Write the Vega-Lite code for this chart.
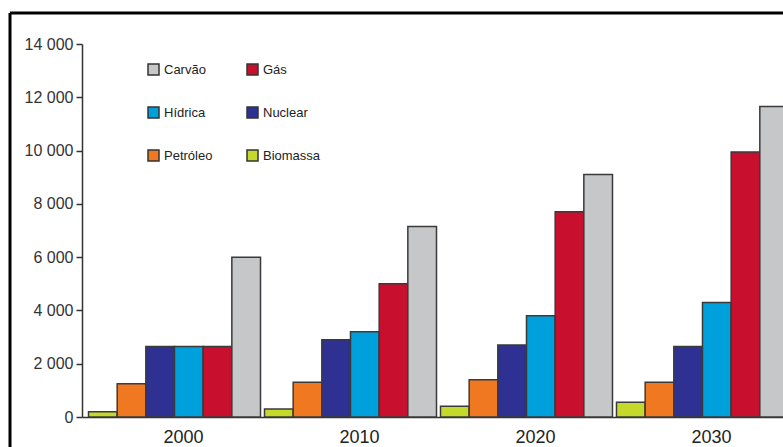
{
  "$schema": "https://vega.github.io/schema/vega-lite/v6.json",
  "width": 773,
  "height": 434,
  "autosize": {"type": "none"},
  "padding": {"left": 10, "top": 13, "right": 0, "bottom": 0},
  "background": "#ffffff",
  "config": {
    "font": "Liberation Sans",
    "view": {
      "stroke": "#000000",
      "strokeWidth": 3,
      "strokeDash": [773, 1207, 434, 0]
    }
  },
  "data": {
    "values": [
      {"ano": "2000", "fonte": "Biomassa", "valor": 200},
      {"ano": "2000", "fonte": "Petróleo", "valor": 1250},
      {"ano": "2000", "fonte": "Nuclear", "valor": 2650},
      {"ano": "2000", "fonte": "Hídrica", "valor": 2650},
      {"ano": "2000", "fonte": "Gás", "valor": 2650},
      {"ano": "2000", "fonte": "Carvão", "valor": 6000},
      {"ano": "2010", "fonte": "Biomassa", "valor": 300},
      {"ano": "2010", "fonte": "Petróleo", "valor": 1300},
      {"ano": "2010", "fonte": "Nuclear", "valor": 2900},
      {"ano": "2010", "fonte": "Hídrica", "valor": 3200},
      {"ano": "2010", "fonte": "Gás", "valor": 5000},
      {"ano": "2010", "fonte": "Carvão", "valor": 7150},
      {"ano": "2020", "fonte": "Biomassa", "valor": 400},
      {"ano": "2020", "fonte": "Petróleo", "valor": 1400},
      {"ano": "2020", "fonte": "Nuclear", "valor": 2700},
      {"ano": "2020", "fonte": "Hídrica", "valor": 3800},
      {"ano": "2020", "fonte": "Gás", "valor": 7700},
      {"ano": "2020", "fonte": "Carvão", "valor": 9100},
      {"ano": "2030", "fonte": "Biomassa", "valor": 550},
      {"ano": "2030", "fonte": "Petróleo", "valor": 1300},
      {"ano": "2030", "fonte": "Nuclear", "valor": 2650},
      {"ano": "2030", "fonte": "Hídrica", "valor": 4300},
      {"ano": "2030", "fonte": "Gás", "valor": 9950},
      {"ano": "2030", "fonte": "Carvão", "valor": 11650}
    ]
  },
  "mark": {"type": "bar", "clip": true, "stroke": "#3a3a3a", "strokeWidth": 1.5},
  "encoding": {
    "x": {
      "field": "ano",
      "type": "nominal",
      "scale": {"range": [72, 785], "paddingInner": 0.0227, "paddingOuter": 0.037},
      "axis": {
        "title": null,
        "orient": "bottom",
        "offset": -30,
        "labelAngle": 0,
        "ticks": false,
        "tickSize": 0,
        "domainColor": "#333333",
        "domainWidth": 1.5,
        "labelFontSize": 18,
        "labelColor": "#222222",
        "labelPadding": 11,
        "labelOffset": 9,
        "labelBaseline": "top"
      }
    },
    "xOffset": {
      "field": "fonte",
      "type": "nominal",
      "sort": ["Biomassa", "Petróleo", "Nuclear", "Hídrica", "Gás", "Carvão"],
      "scale": {"paddingInner": 0, "paddingOuter": 0}
    },
    "y": {
      "field": "valor",
      "type": "quantitative",
      "scale": {"domain": [0, 14000], "range": [404, 31], "nice": false},
      "axis": {
        "title": null,
        "orient": "left",
        "offset": -72,
        "grid": false,
        "values": [0, 2000, 4000, 6000, 8000, 10000, 12000, 14000],
        "labelExpr": "replace(format(datum.value, ','), ',', ' ')",
        "domainColor": "#333333",
        "domainWidth": 1.5,
        "tickColor": "#333333",
        "tickWidth": 1.5,
        "tickSize": 6,
        "labelPadding": 3,
        "labelFontSize": 16,
        "labelColor": "#333333",
        "labelDy": -2
      }
    },
    "color": {
      "field": "fonte",
      "type": "nominal",
      "scale": {
        "domain": ["Carvão", "Hídrica", "Petróleo", "Gás", "Nuclear", "Biomassa"],
        "range": ["#c6c7c9", "#00a0dc", "#f07820", "#c8102e", "#2e3192", "#c5d92d"]
      },
      "legend": {
        "title": null,
        "orient": "none",
        "legendX": 137,
        "legendY": 50,
        "columns": 2,
        "columnPadding": 31,
        "rowPadding": 26,
        "symbolType": "square",
        "symbolSize": 121,
        "symbolStrokeColor": "#333333",
        "symbolStrokeWidth": 1.5,
        "symbolOffset": 0,
        "labelOffset": 4,
        "labelFontSize": 13,
        "labelColor": "#222222",
        "padding": 0
      }
    }
  }
}
